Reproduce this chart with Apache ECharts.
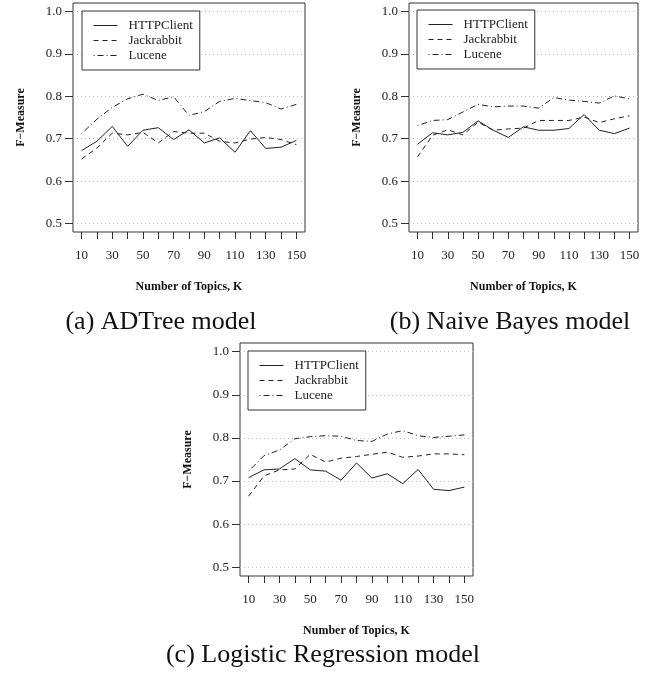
<!DOCTYPE html>
<html>
<head>
<meta charset="utf-8">
<script src="https://cdn.jsdelivr.net/npm/echarts@6/dist/echarts.min.js"></script>
<style>
html,body{margin:0;padding:0;background:#fff;}
#chart{width:659px;height:678px;}
</style>
</head>
<body>
<div id="chart"></div>
<script>
// ---- data ----
var topicsK = [10,20,30,40,50,60,70,80,90,100,110,120,130,140,150];
var xTickValues = [10,20,30,40,50,60,70,80,90,100,110,120,130,140,150];
var xLabelValues = [10,30,50,70,90,110,130,150];
var yTickValues = [0.5,0.6,0.7,0.8,0.9,1.0];
var seriesNames = ['HTTPClient','Jackrabbit','Lucene'];
var panelCaptions = ['(a) ADTree model','(b) Naive Bayes model','(c) Logistic Regression model'];
var xAxisTitle = 'Number of Topics, K';
var yAxisTitle = 'F\u2212Measure';

// (a) ADTree
var adtreeHTTPClient = [0.672,0.694,0.729,0.682,0.720,0.726,0.698,0.721,0.690,0.702,0.668,0.719,0.677,0.680,0.696];
var adtreeJackrabbit = [0.652,0.678,0.713,0.709,0.715,0.690,0.717,0.713,0.713,0.694,0.690,0.699,0.703,0.698,0.686];
var adtreeLucene     = [0.712,0.746,0.774,0.794,0.805,0.790,0.799,0.755,0.764,0.788,0.795,0.790,0.785,0.770,0.781];
// (b) Naive Bayes
var bayesHTTPClient = [0.687,0.714,0.709,0.715,0.742,0.720,0.703,0.728,0.720,0.720,0.724,0.757,0.720,0.712,0.725];
var bayesJackrabbit = [0.657,0.708,0.721,0.709,0.739,0.720,0.723,0.725,0.743,0.743,0.743,0.751,0.738,0.747,0.754];
var bayesLucene     = [0.731,0.743,0.745,0.763,0.781,0.775,0.777,0.777,0.772,0.797,0.791,0.788,0.784,0.801,0.794];
// (c) Logistic Regression
var logisticHTTPClient = [0.708,0.726,0.728,0.752,0.726,0.723,0.702,0.742,0.707,0.717,0.694,0.727,0.681,0.678,0.686];
var logisticJackrabbit = [0.665,0.712,0.726,0.728,0.762,0.744,0.753,0.757,0.762,0.767,0.755,0.758,0.763,0.763,0.761];
var logisticLucene     = [0.723,0.759,0.772,0.798,0.803,0.805,0.804,0.794,0.792,0.809,0.817,0.805,0.801,0.804,0.807];

var panelData = [
  [adtreeHTTPClient, adtreeJackrabbit, adtreeLucene],
  [bayesHTTPClient, bayesJackrabbit, bayesLucene],
  [logisticHTTPClient, logisticJackrabbit, logisticLucene]
];

// ---- layout / style ----
var SERIF = '"Liberation Serif","DejaVu Serif",serif';
var INK = '#222';
var grids = [
  {left:73, top:3, width:232, height:229},
  {left:409, top:3, width:229, height:229},
  {left:240, top:343, width:233, height:233}
];
var legendPos = [
  {left:82, top:11},
  {left:417, top:10},
  {left:248, top:351}
];
var captionPos = [[161,322],[510,322],[323,655]];
var lineTypes = ['solid',[5,4],[1,3,6,3]];

var option = {
  backgroundColor:'#fff',
  animation:false,
  grid: grids.map(function(g){
    return Object.assign({show:true, borderColor:'#333', borderWidth:1, backgroundColor:'transparent', containLabel:false}, g);
  }),
  xAxis: grids.map(function(g,i){
    return {
      type:'value', gridIndex:i, min:4.4, max:155.6,
      name:xAxisTitle, nameLocation:'middle', nameGap:49,
      nameTextStyle:{fontFamily:SERIF, fontSize:12, fontWeight:'bold', color:'#111'},
      axisLine:{show:false},
      axisTick:{show:true, inside:false, length:7, customValues:xTickValues, lineStyle:{color:'#333', width:1}},
      axisLabel:{show:true, customValues:xLabelValues, margin:17, fontFamily:SERIF, fontSize:13, color:'#222'},
      splitLine:{show:false}
    };
  }),
  yAxis: grids.map(function(g,i){
    return {
      type:'value', gridIndex:i, min:0.48, max:1.02,
      name:yAxisTitle, nameLocation:'middle', nameGap:46, nameRotate:90,
      nameTextStyle:{fontFamily:SERIF, fontSize:12, fontWeight:'bold', color:'#111'},
      axisLine:{show:false},
      axisTick:{show:true, inside:false, length:8, customValues:yTickValues, lineStyle:{color:'#333', width:1}},
      axisLabel:{show:true, customValues:yTickValues, margin:11, fontFamily:SERIF, fontSize:13, color:'#222',
        formatter:function(v){return Number(v).toFixed(1);}},
      splitLine:{show:true, lineStyle:{color:'#bbb', type:[1,3], width:1}}
    };
  }),
  legend: legendPos.map(function(p){
    return {
      left:p.left, top:p.top, orient:'vertical',
      data:seriesNames.slice(),
      backgroundColor:'#fff', borderColor:'#333', borderWidth:1, borderRadius:0,
      padding:[8,7,8,11], itemGap:2, itemWidth:24, itemHeight:14,
      selectedMode:false,
      itemStyle:{opacity:0},
      lineStyle:{width:1, color:INK},
      textStyle:{fontFamily:SERIF, fontSize:13, color:'#222', padding:[0,0,0,6]}
    };
  }),
  series: [],
  graphic: panelCaptions.map(function(t,i){
    return {type:'text', style:{text:t, x:captionPos[i][0], y:captionPos[i][1],
      textAlign:'center', textVerticalAlign:'middle', font:'26px ' + SERIF, fill:'#111'}};
  })
};

panelData.forEach(function(arr, p){
  arr.forEach(function(vals, s){
    option.series.push({
      type:'line', name:seriesNames[s], xAxisIndex:p, yAxisIndex:p,
      data: topicsK.map(function(k,j){return [k, vals[j]];}),
      symbol:'none', smooth:false,
      lineStyle:{color:INK, width:1, type:lineTypes[s]},
      itemStyle:{color:INK},
      z:3
    });
  });
});

var chart = echarts.init(document.getElementById('chart'), null, {renderer:'canvas'});
chart.setOption(option);
</script>
</body>
</html>
